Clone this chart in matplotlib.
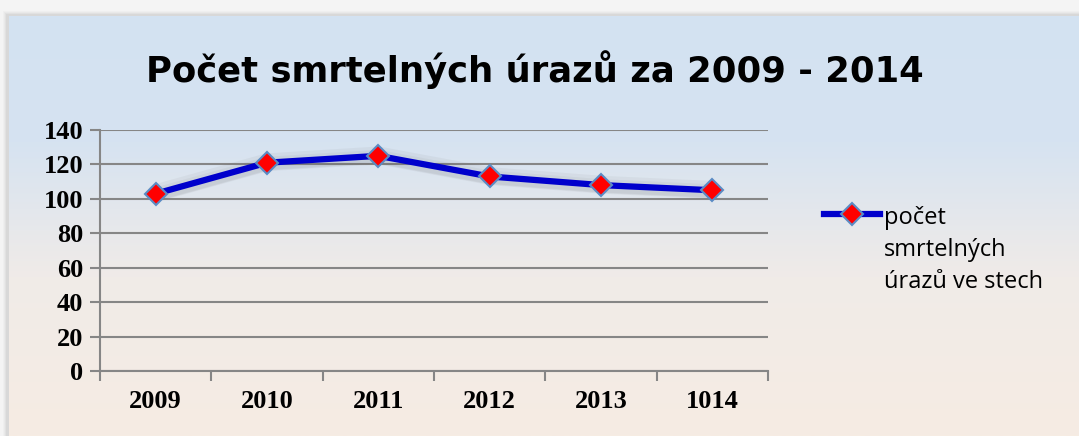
import matplotlib.pyplot as plt
import numpy as np
from matplotlib.colors import LinearSegmentedColormap
from matplotlib.patches import Rectangle
import matplotlib.transforms as mtransforms

# data
years = ['2009', '2010', '2011', '2012', '2013', '1014']
deaths = [103, 121, 125, 113, 108, 105]
series_name = 'počet\nsmrtelných\núrazů ve stech'
title = 'Počet smrtelných úrazů za 2009 - 2014'
yticks = [0, 20, 40, 60, 80, 100, 120, 140]

fig = plt.figure(figsize=(10.79, 4.36), dpi=100)
fig.patch.set_facecolor('#f4f4f4')

# background panel with blue -> beige gradient
bg = fig.add_axes([0, 0, 1, 1], zorder=-10)
bg.set_axis_off()
bg.set_xlim(0, 1079)
bg.set_ylim(436, 0)
# soft shadow around the panel
for i, a in enumerate([0.05, 0.07, 0.09, 0.12]):
    bg.add_patch(Rectangle((7 - 4 + i, 15 - 4 + i), 1079, 436, color='#9a9a9a', alpha=a, lw=0))
cmap = LinearSegmentedColormap.from_list('bg', [(0, '#d3e2f2'), (0.3, '#d6e3f1'),
                                                (0.62, '#f0ebe8'), (1, '#f6ece3')])
grad = np.linspace(0, 1, 256).reshape(-1, 1)
bg.imshow(grad, cmap=cmap, aspect='auto', extent=(9, 1079, 436, 17), zorder=2)

ax = fig.add_axes([100 / 1079, 1 - 371 / 436, 668 / 1079, 241 / 436])
ax.patch.set_alpha(0)
x = np.arange(len(years))

# soft shadow around the line
for k, (dy, a) in enumerate([(-3, 0.05), (-1, 0.06), (1, 0.06)]):
    off = mtransforms.offset_copy(ax.transData, fig=fig, x=0, y=dy, units='dots')
    ax.plot(x, deaths, color='#555555', lw=8 + 2 * k, alpha=a, transform=off,
            solid_capstyle='round', zorder=2)

ax.plot(x, deaths, color='#0000cc', lw=4.5, marker='D', markersize=11,
        markerfacecolor='#ff0000', markeredgecolor='#5b8bc4', markeredgewidth=1.5,
        solid_joinstyle='round', zorder=3, label=series_name)

ax.set_xlim(-0.5, len(years) - 0.5)
ax.set_ylim(0, 140)
ax.set_yticks(yticks)
ax.set_xticks(x)
ax.set_xticklabels(years)
ax.set_xticks(np.arange(-0.5, len(years)), minor=True)
ax.tick_params(axis='x', which='major', length=0, pad=14)
ax.tick_params(axis='x', which='minor', length=7, width=1.5, color='#868686', direction='out')
ax.tick_params(axis='y', length=7, width=1.5, color='#868686', pad=5)
for lab in ax.get_xticklabels() + ax.get_yticklabels():
    lab.set_fontfamily('Liberation Serif')
    lab.set_fontweight('bold')
    lab.set_fontsize(19)
ax.grid(axis='y', color='#868686', lw=1.5)
ax.set_axisbelow(True)
for s in ['top', 'right']:
    ax.spines[s].set_visible(False)
for s in ['left', 'bottom']:
    ax.spines[s].set_color('#868686')
    ax.spines[s].set_linewidth(1.5)

fig.text(535 / 1079, 1 - 70 / 436, title, ha='center', va='center',
         fontsize=25.5, fontweight='bold', family='DejaVu Sans')

leg = fig.legend(loc='upper left', bbox_to_anchor=(812 / 1079, 1 - 194 / 436),
                 frameon=False, prop={'family': 'Open Sans', 'size': 17},
                 handlelength=2.4, handletextpad=0.15, borderpad=0, labelspacing=0)
for t in leg.get_texts():
    t.set_linespacing(1.45)
# put the line handle next to the first text line
for col in leg._legend_handle_box.get_children():
    for entry in col.get_children():
        entry.align = 'top'

fig.savefig('out.png', dpi=100)
